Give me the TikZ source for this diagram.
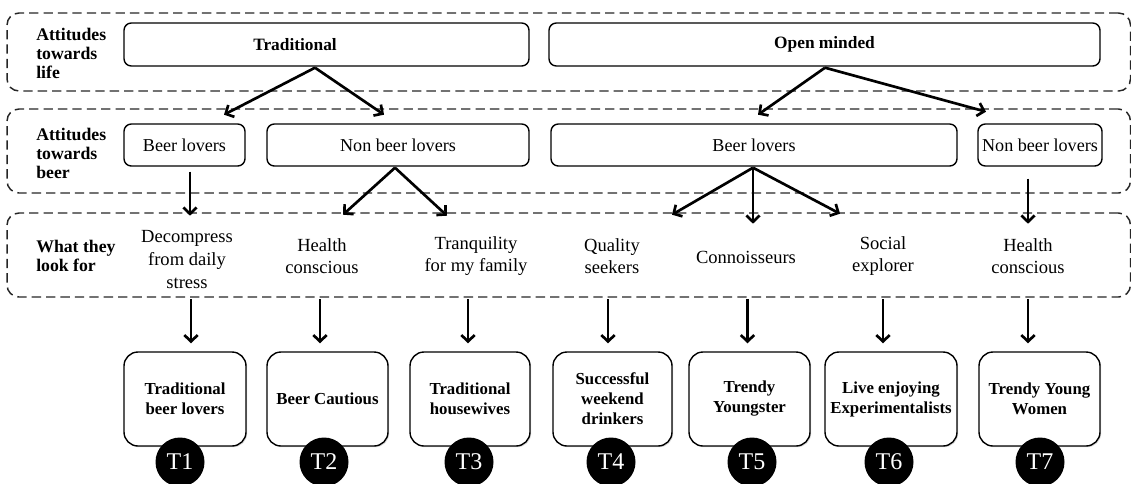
\documentclass[tikz,border=0pt]{standalone}
\usepackage{fontspec}
\setmainfont{Liberation Serif}
\usetikzlibrary{arrows.meta,calc,shadows}

\begin{document}
\begin{tikzpicture}[x=0.75pt,y=-0.75pt,
    grp/.style={draw=black!85,line width=1.1pt,dash pattern=on 7pt off 3.8pt,rounded corners=9pt,
      minimum width=842.6pt,minimum height=63pt,inner sep=0pt},
    lvl/.style={anchor=west,align=left,inner sep=0pt,font=\fontsize{13.3}{14.2}\selectfont\bfseries},
    box/.style={draw,line width=1.05pt,rounded corners=5.5pt,inner sep=0pt,minimum height=31.5pt,
      font=\fontsize{13.6}{16}\selectfont},
    need/.style={align=center,inner sep=0pt,font=\fontsize{13.9}{16.9}\selectfont},
    seg/.style={draw,line width=1.05pt,rounded corners=10.5pt,fill=white,inner sep=0pt,
      minimum height=70.5pt,align=center,font=\fontsize{12.6}{15}\selectfont\bfseries,
      drop shadow={shadow xshift=0.9pt,shadow yshift=-0.9pt,opacity=0.3}},
    tag/.style={circle,fill=black,text=white,inner sep=0pt,minimum size=36.75pt,
      font=\fontsize{18}{18}\selectfont},
    arr/.style={-{Straight Barb[length=4.8pt,width=10pt]},line width=2pt}]
  \useasboundingbox (0,0) rectangle (1131,483);

  % the three levels
  \node[grp,minimum height=58.5pt] (grpA) at (568.75,52) {};
  \node[grp] (grpB) at (568.75,151) {};
  \node[grp] (grpC) at (568.75,255) {};
  \node[lvl] (lvlA) at (36,53.5) {Attitudes\\towards\\life};
  \node[lvl] (lvlB) at (36,153.5) {Attitudes\\towards\\beer};
  \node[lvl] (lvlC) at (36,256) {What they\\look for};

  % attitudes towards life
  \node[box,minimum width=303.75pt,minimum height=32.25pt] (trad) at (326.5,44.5) {};
  \node[font=\fontsize{13}{15}\selectfont\bfseries] (tradtxt) at ($(trad.center)+(-31.5,0)$) {Traditional};
  \node[box,minimum width=413.25pt,minimum height=32.25pt,font=\fontsize{13}{15}\selectfont\bfseries]
    (open) at (824.5,44.5) {Open minded};

  % attitudes towards beer
  \node[box,minimum width=90.75pt] (beerA) at (184.5,145) {Beer lovers};
  \node[box,minimum width=196.5pt] (nbeerA) at (398,145) {Non beer lovers};
  \node[box,minimum width=304.5pt] (beerB) at (754,145) {Beer lovers};
  \node[box,minimum width=93pt] (nbeerB) at (1040,145) {Non beer lovers};

  % what they look for
  \node[need] (need1) at (187,259.5) {Decompress\\from daily\\stress};
  \node[need] (need2) at (322,256) {Health\\conscious};
  \node[need] (need3) at (476,256) {Tranquility\\for my family};
  \node[need] (need4) at (612,256) {Quality\\seekers};
  \node[need] (need5) at (746,257) {Connoisseurs};
  \node[need] (need6) at (883,256) {Social\\explorer};
  \node[need] (need7) at (1028,256) {Health\\conscious};

  % segments
  \foreach \i/\x/\w/\txt in {1/185/91.5pt/{Traditional\\beer lovers},2/327.5/90.75pt/{Beer Cautious},
      3/470/90pt/{Traditional\\housewives},4/612.5/89.25pt/{Successful\\weekend\\drinkers},
      5/749.5/90.75pt/{Trendy\\Youngster},6/891/99pt/{Live enjoying\\Experimentalists},
      7/1039.5/90.75pt/{Trendy Young\\Women}}
    \node[seg,minimum width=\w] (seg\i) at (\x,399) {\txt};
  \foreach \i/\x in {1/180,2/324,3/469,4/611,5/752,6/889,7/1040}
    \node[tag] (tag\i) at (\x,462) {T\i};

  % arrows
  \coordinate (ta) at ($(trad.south)+(-11.5,1)$);
  \draw[arr] (ta) -- ++(-91,47);
  \draw[arr] (ta) -- ++(69,47);
  \coordinate (oa) at ($(open.south)+(0.5,1)$);
  \draw[arr] (oa) -- ++(-67,47);
  \draw[arr] (oa) -- ++(161,44);
  \draw[arr] ($(beerA.south)+(5.5,5)$) -- ++(0,44);
  \coordinate (na) at ($(nbeerA.south)+(-3,1)$);
  \draw[arr] (na) -- ++(-52,47);
  \draw[arr] (na) -- ++(52,48);
  \coordinate (ba) at ($(beerB.south)+(-1,1)$);
  \draw[arr] (ba) -- ++(-81,47);
  \draw[arr] (ba) -- ++(0,56);
  \draw[arr] (ba) -- ++(87,46);
  \draw[arr] ($(nbeerB.south)+(-12,12)$) -- ++(0,45);
  \foreach \i/\dx in {1/6,2/-7.5,3/-2,4/-4.5,5/-2,6/-8,7/-11.5}
    \draw[arr] ($(seg\i.north)+(\dx,-52)$) -- ++(0,44);
\end{tikzpicture}
\end{document}
